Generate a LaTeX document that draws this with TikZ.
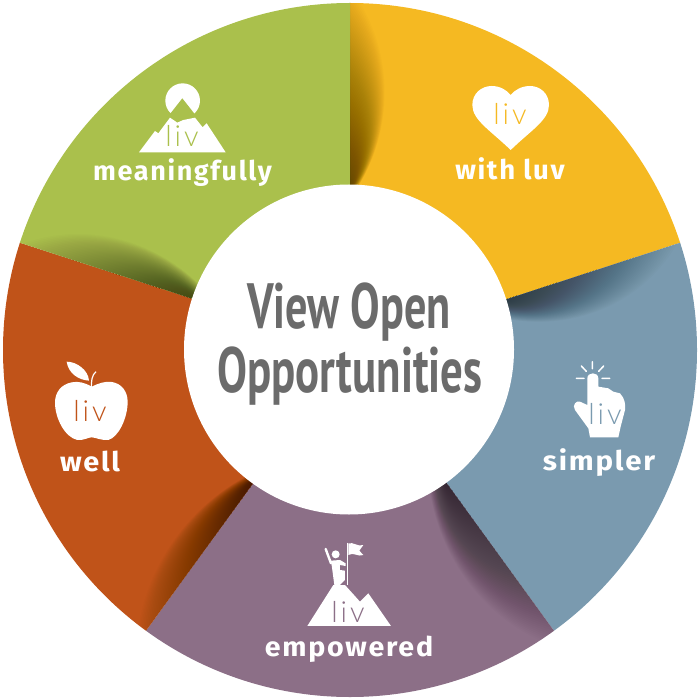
\documentclass[tikz,border=0pt]{standalone}
\usepackage{fontspec}
\usetikzlibrary{calc}
\setmainfont{Fira Sans}
\newfontfamily\labelfont[LetterSpace=6]{Fira Sans}[UprightFont=* Bold]
\newfontfamily\centerfont{PT Sans}[UprightFont=* Bold]
\newfontfamily\livfont[LetterSpace=10]{Lato}[UprightFont=* Light]
\definecolor{cgreen}{HTML}{AAC04C}
\definecolor{cyellow}{HTML}{F5B922}
\definecolor{cblue}{HTML}{7A9AAF}
\definecolor{cpurple}{HTML}{8C6F87}
\definecolor{corange}{HTML}{C05319}
\definecolor{cgray}{HTML}{6B6B6B}
\tikzset{
  seclabel/.style={text=white,font=\labelfont\fontsize{27}{27}\selectfont,inner sep=0pt,anchor=base},
  livtext/.style={font=\livfont\fontsize{29}{29}\selectfont,inner sep=0pt,anchor=base},
  centertext/.style={text=cgray,inner sep=0pt,anchor=base},
  shadowlayer/.style={fill=black,fill opacity=0.012},
  ico/.style={x=0.3333pt,y=-0.3333pt},
}
% #1 inner point, #2 outer point, #3 outer width, #4 inner width, #5 reach
\newcommand{\wedgeshadow}[5]{%
  \foreach \k in {1,...,60}{%
    \pgfmathsetmacro\tt{\k/61*#5}%
    \pgfmathsetmacro\tu{0.7*\tt}%
    \pgfmathsetmacro\tv{0.3*\tt}%
    \pgfmathsetmacro\wa{\k/61*#3}%
    \pgfmathsetmacro\wb{\k/61*#4}%
    \coordinate (sp) at ($(#1)!\tt!(#2)$);
    \coordinate (sq) at ($(#1)!\tu!(#2)$);
    \coordinate (sr) at ($(#1)!\tv!(#2)$);
    \fill[shadowlayer] (#1) -- (sp) .. controls ($(sq)!\wa pt!-90:(#2)$) and ($(sr)!\wa pt!-90:(#2)$) .. ($(#1)!\wb pt!-90:(#2)$) -- cycle;
  }%
}
\begin{document}
\begin{tikzpicture}[x=1pt,y=-1pt]
\useasboundingbox (0,0) rectangle (700,700);
\coordinate (C) at (350,350);
\coordinate (Ci) at (349,349.5);
\begin{scope}
\clip (C) circle[radius=347];
\fill[cyellow] (C) -- ++(-90:600) -- ++(600,0) -- ($(C)+(-18:800)$) -- cycle;
\fill[cblue] (C) -- ($(C)+(-18:800)$) -- ($(C)+(18:900)$) -- ($(C)+(54:800)$) -- cycle;
\fill[cpurple] (C) -- ($(C)+(54:800)$) -- ($(C)+(90:900)$) -- ($(C)+(126:800)$) -- cycle;
\fill[corange] (C) -- ($(C)+(126:800)$) -- ($(C)+(162:900)$) -- ($(C)+(198:800)$) -- cycle;
\fill[cgreen] (C) -- ($(C)+(198:800)$) -- ($(C)+(234:900)$) -- ($(C)+(270:800)$) -- cycle;
\coordinate (i1) at ($(C)+(-90:160)$);  \coordinate (o1) at ($(C)+(-90:347)$);
\coordinate (i2) at ($(C)+(-18:160)$);  \coordinate (o2) at ($(C)+(-18:347)$);
\coordinate (i3) at ($(C)+(54:160)$);   \coordinate (o3) at ($(C)+(54:347)$);
\coordinate (i4) at ($(C)+(126:160)$);  \coordinate (o4) at ($(C)+(126:347)$);
\coordinate (i5) at ($(C)+(198:160)$);  \coordinate (o5) at ($(C)+(198:347)$);
\wedgeshadow{i1}{o1}{46}{6}{1.1}
\wedgeshadow{i2}{o2}{50}{20}{1.0}
\wedgeshadow{i3}{o3}{52}{18}{1.15}
\wedgeshadow{i4}{o4}{40}{8}{1.1}
\wedgeshadow{i5}{o5}{44}{14}{1.0}
\end{scope}
\fill[white] (Ci) circle[radius=165];
\node[centertext] (t1) at (349,328) {\scalebox{0.69}[1]{\centerfont\fontsize{64}{64}\selectfont View Open}};
\node[centertext] (t2) at (350,392) {\scalebox{0.70}[1]{\centerfont\fontsize{64}{64}\selectfont Opportunities}};
% mountain + sun
\begin{scope}[shift={(90,70)},ico]
\fill[white] (278,92) circle[radius=52];
\fill[cgreen] (277,85) -- (218,160) -- (336,160) -- cycle;
\fill[white] (147,247) -- (195,183) -- (205,190) -- (240,143) -- (262,158) -- (280,150) -- (315,143) -- (338,172) -- (350,160) -- (407,247) -- cycle;
\end{scope}
\node[livtext,text=cgreen] (l1) at (182,147) {liv};
\node[seclabel] (n1) at (182.5,181) {meaningfully};
% heart
\begin{scope}[shift={(440,70)},ico]
\fill[white] (212,240) .. controls (150,180) and (97,150) .. (97,105) .. controls (97,70) and (125,48) .. (155,48) .. controls (180,48) and (200,60) .. (212,75) .. controls (224,60) and (245,48) .. (270,48) .. controls (300,48) and (327,70) .. (327,105) .. controls (327,150) and (274,180) .. (212,240) -- cycle;
\end{scope}
\node[livtext,text=cyellow] (l2) at (510,125) {liv};
\node[seclabel] (n2) at (510,180) {\scalebox{1.02}[1]{with luv}};
% hand
\begin{scope}[shift={(530,350)},ico]
\draw[white,line width=1.5pt,line cap=round] (187,35) -- (187,56) (154,48) -- (169,64) (221,48) -- (206,64) (139,85) -- (162,85) (216,85) -- (239,85);
\fill[white] (172,165) -- (172,85) .. controls (172,65) and (205,65) .. (205,85) -- (205,110) -- (235,115) -- (250,125) -- (270,130) .. controls (285,145) and (287,165) .. (285,180) -- (272,230) -- (265,262) -- (180,262) -- (175,235) -- (135,180) .. controls (125,165) and (140,150) .. (150,155) -- cycle;
\end{scope}
\node[livtext,text=cblue] (l3) at (605,424) {liv};
\node[seclabel] (n3) at (599,470.5) {\scalebox{1.09}[1]{simpler}};
% climber
\begin{scope}[shift={(255,530)},ico]
\fill[white] (157,288) -- (235,165) -- (270,165) -- (315,215) -- (340,190) -- (408,288) -- cycle;
\fill[white] (242,73) circle[radius=12];
\draw[white,line width=2.4pt,line cap=round] (228,100) -- (212,57);
\draw[white,line width=1.2pt] (277,38) -- (277,165);
\fill[white] (280,40) .. controls (295,35) and (310,52) .. (325,45) -- (313,62) -- (325,75) .. controls (310,82) and (295,65) .. (280,75) -- cycle;
\fill[white] (228,92) -- (255,90) -- (272,100) -- (272,108) -- (255,105) -- (255,120) -- (270,122) -- (270,150) -- (255,165) -- (238,165) -- (232,120) -- cycle;
\end{scope}
\node[livtext,text=cpurple] (l4) at (348,622) {liv};
\node[seclabel] (n4) at (349,656.5) {\scalebox{1.06}[1]{empowered}};
% apple
\begin{scope}[shift={(40,350)},ico]
\fill[white] (155,110) .. controls (135,98) and (115,93) .. (95,97) .. controls (65,103) and (45,125) .. (45,158) .. controls (45,205) and (75,262) .. (112,270) .. controls (130,272) and (145,262) .. (155,262) .. controls (165,262) and (185,272) .. (205,270) .. controls (235,262) and (263,205) .. (263,155) .. controls (263,125) and (245,100) .. (215,96) .. controls (195,93) and (175,100) .. (155,110) -- cycle;
\fill[white] (80,35) .. controls (110,35) and (145,60) .. (147,92) .. controls (115,90) and (85,70) .. (80,35) -- cycle;
\draw[white,line width=1.2pt] (154,112) .. controls (154,95) and (155,75) .. (168,65);
\end{scope}
\node[livtext,text=corange] (l5) at (90,421) {liv};
\node[seclabel] (n5) at (90,471) {\scalebox{1.07}[1]{well}};
\end{tikzpicture}
\end{document}
